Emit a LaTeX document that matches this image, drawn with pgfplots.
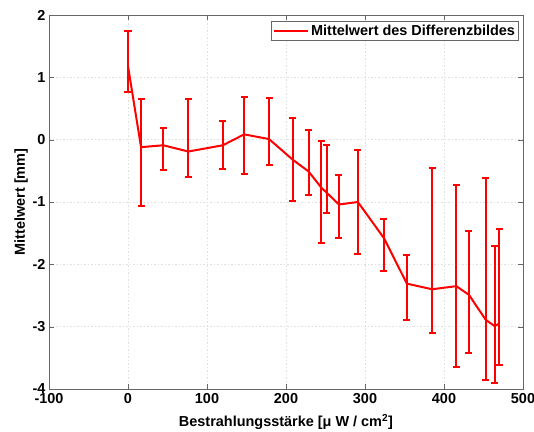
\documentclass[border=0pt]{standalone}
\usepackage{fontspec}
\setmainfont{Liberation Sans}
\usepackage{pgfplots}
\pgfplotsset{compat=1.18}
\usepackage{pgfplotstable}
\pgfplotstableread{
x y ep em
0 1.18 0.56 0.41
16.5 -0.12 0.78 0.95
44.7 -0.09 0.27 0.40
76.3 -0.19 0.84 0.41
120 -0.09 0.39 0.38
147 0.085 0.605 0.635
178.5 0.01 0.66 0.41
208.4 -0.32 0.67 0.66
228.6 -0.51 0.66 0.37
244.7 -0.77 0.75 0.89
251.5 -0.85 0.76 0.33
267 -1.04 0.48 0.54
291 -1.00 0.83 0.83
324 -1.58 0.31 0.52
353 -2.31 0.46 0.58
385 -2.40 1.95 0.70
415.6 -2.35 1.63 1.29
431.6 -2.49 1.03 0.93
452.8 -2.89 2.27 0.96
464 -2.99 1.29 0.91
470 -2.95 1.52 0.67
}\datatable
\begin{document}
\begin{tikzpicture}
\begin{axis}[
  scale only axis,
  width=474bp, height=374bp,
  xmin=-100, xmax=500, ymin=-4, ymax=2,
  xtick={-100,0,...,500}, ytick={-4,-3,...,2},
  tick align=inside,
  axis line style={gray!80!black},
  tick style={gray!80!black},
  major tick length=5bp,
  xmajorgrids, ymajorgrids,
  grid style={dash pattern=on 1.5bp off 2bp, gray!25},
  /pgf/number format/assume math mode=true,
  ticklabel style={font=\fontsize{14.5}{16}\selectfont\bfseries},
  xticklabel style={yshift=-1bp},
  label style={font=\fontsize{14.5}{16}\selectfont\bfseries},
  xlabel={Bestrahlungsstärke [μ W / cm\textsuperscript{2}]},
  ylabel={Mittelwert [mm]},
  xlabel style={yshift=-4bp},
  ylabel style={yshift=-2bp},
  legend style={at={(0.991,0.984)}, anchor=north east, draw=gray!80!black,
    font=\fontsize{14.5}{16}\selectfont\bfseries, inner sep=1.5bp, row sep=0bp},
  legend cell align=left,
  legend image code/.code={\draw[red, line width=2bp] (-4bp,0bp) -- (30bp,0bp);},
]
\addplot[red, line width=2bp,
  error bars/.cd, y dir=both, y explicit,
  error bar style={line width=2bp, red},
  error mark options={rotate=90, mark size=3.5bp, line width=2bp, red}]
  table[x=x, y=y, y error plus=ep, y error minus=em] {\datatable};
\addlegendentry{Mittelwert des Differenzbildes}
\end{axis}
\pgfresetboundingbox
\path[use as bounding box] (current axis.south west) ++(-49bp,-43bp) rectangle ++(534bp,432bp);
\end{tikzpicture}
\end{document}
